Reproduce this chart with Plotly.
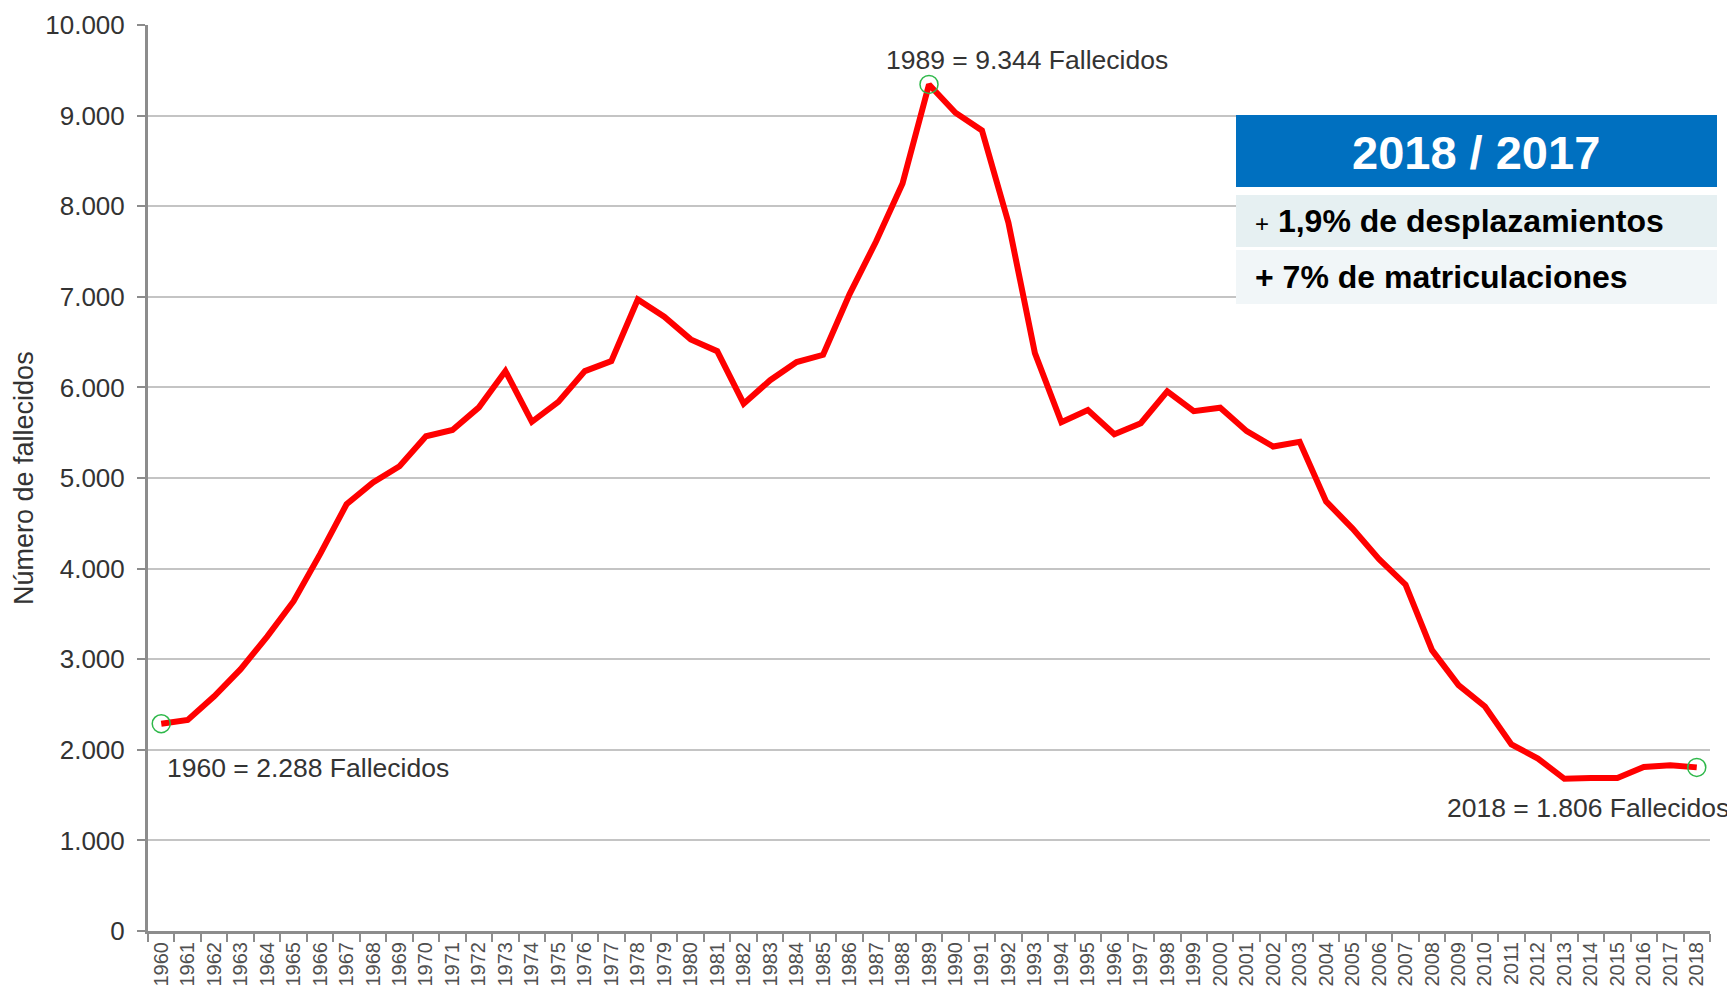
import plotly.graph_objects as go

# Datos: fallecidos en carretera por año
years = [str(y) for y in range(1960, 2019)]
fallecidos = [
    2288, 2330, 2590, 2890, 3250, 3640, 4160, 4710, 4950, 5130,   # 1960-1969
    5460, 5530, 5780, 6180, 5620, 5840, 6180, 6290, 6970, 6780,   # 1970-1979
    6530, 6400, 5820, 6080, 6280, 6360, 7030, 7610, 8250, 9344,   # 1980-1989
    9032, 8836, 7818, 6378, 5615, 5751, 5483, 5604, 5957, 5738,   # 1990-1999
    5776, 5517, 5347, 5399, 4741, 4442, 4104, 3823, 3100, 2714,   # 2000-2009
    2478, 2060, 1903, 1680, 1688, 1689, 1810, 1830, 1806,         # 2010-2018
]
highlight_years = ["1960", "1989", "2018"]
highlight_values = [2288, 9344, 1806]

y_ticks = list(range(0, 10001, 1000))

box_title = "2018 / 2017"
box_row1 = "<span style='font-size:24px;font-weight:normal'>+</span> <b>1,9% de desplazamientos</b>"
box_row2 = "<b>+ 7% de matriculaciones</b>"

W, H = 1735, 987
OFF = 8  # margen del <body> en la página
# área de trazado en píxeles de la página
PL, PR, PT, PB = 148, 1710, 25, 931
L, T = PL - OFF, PT - OFF
R, B = W - (PR - OFF), H - (PB - OFF)
FONT = "Arial, Liberation Sans, sans-serif"


def px_x(px):
    return (px - PL) / (PR - PL)


def px_y(py):
    return (PB - py) / (PB - PT)


fig = go.Figure()

fig.add_trace(
    go.Scatter(
        x=years,
        y=fallecidos,
        mode="lines",
        line=dict(color="#ff0000", width=6),
        hovertemplate="%{x}: %{y:,d}<extra></extra>",
        showlegend=False,
    )
)

fig.add_trace(
    go.Scatter(
        x=highlight_years,
        y=highlight_values,
        mode="markers",
        marker=dict(symbol="circle-open", size=18, color="#2eb84a", line=dict(width=1.5)),
        hoverinfo="skip",
        showlegend=False,
    )
)

# caja 2018 / 2017
shapes = [
    dict(type="rect", xref="paper", yref="paper", x0=px_x(1236), x1=px_x(1717),
         y0=px_y(304), y1=px_y(115), fillcolor="white", line_width=0),
    dict(type="rect", xref="paper", yref="paper", x0=px_x(1236), x1=px_x(1717),
         y0=px_y(187), y1=px_y(115), fillcolor="#0070c0", line_width=0),
    dict(type="rect", xref="paper", yref="paper", x0=px_x(1236), x1=px_x(1717),
         y0=px_y(247), y1=px_y(195), fillcolor="#e6f0f2", line_width=0),
    dict(type="rect", xref="paper", yref="paper", x0=px_x(1236), x1=px_x(1717),
         y0=px_y(304), y1=px_y(250), fillcolor="#f1f6f8", line_width=0),
]

label_font = dict(family=FONT, size=26.5, color="#333333")
annotations = [
    dict(text="1989 = 9.344 Fallecidos", x=px_x(1027), y=px_y(60), xanchor="center",
         yanchor="middle", font=label_font),
    dict(text="1960 = 2.288 Fallecidos", x=px_x(165), y=px_y(768), xanchor="left",
         yanchor="middle", font=label_font),
    dict(text="2018 = 1.806 Fallecidos", x=px_x(1445), y=px_y(808), xanchor="left",
         yanchor="middle", font=label_font),
    dict(text="Número de fallecidos", x=px_x(24), y=0.5, textangle=-90, xanchor="center",
         yanchor="middle", font=dict(family=FONT, size=27, color="#333333")),
    dict(text="<b>" + box_title + "</b>", x=px_x(1476), y=px_y(152), xanchor="center",
         yanchor="middle", font=dict(family=FONT, size=47, color="white")),
    dict(text=box_row1, x=px_x(1253), y=px_y(221), xanchor="left", yanchor="middle",
         font=dict(family=FONT, size=32, color="black")),
    dict(text=box_row2, x=px_x(1253), y=px_y(277), xanchor="left", yanchor="middle",
         font=dict(family=FONT, size=32, color="black")),
]
for a in annotations:
    a.update(xref="paper", yref="paper", showarrow=False)

fig.update_layout(
    width=W,
    height=H,
    margin=dict(l=L, r=R, t=T, b=B),
    paper_bgcolor="white",
    plot_bgcolor="white",
    separators=",.",
    shapes=shapes,
    annotations=annotations,
    font=dict(family=FONT),
    xaxis=dict(
        type="category",
        range=[-0.5, len(years) - 0.5],
        automargin=False,
        tickson="boundaries",
        ticks="outside",
        ticklen=8,
        tickwidth=2,
        tickcolor="#8c8c8c",
        tickangle=-90,
        tickfont=dict(family=FONT, size=20, color="#505050"),
        showgrid=False,
        showline=True,
        linecolor="#8c8c8c",
        linewidth=3,
        zeroline=False,
    ),
    yaxis=dict(
        range=[0, 10000],
        automargin=False,
        tickvals=y_ticks,
        tickformat=",d",
        ticks="outside",
        ticklen=8,
        tickwidth=2,
        tickcolor="#8c8c8c",
        ticklabelstandoff=7,
        tickfont=dict(family=FONT, size=26, color="#333333"),
        showgrid=True,
        gridcolor="#c4c4c4",
        gridwidth=2,
        showline=True,
        linecolor="#8c8c8c",
        linewidth=3,
        zeroline=False,
    ),
)

fig.write_html("out.html")
